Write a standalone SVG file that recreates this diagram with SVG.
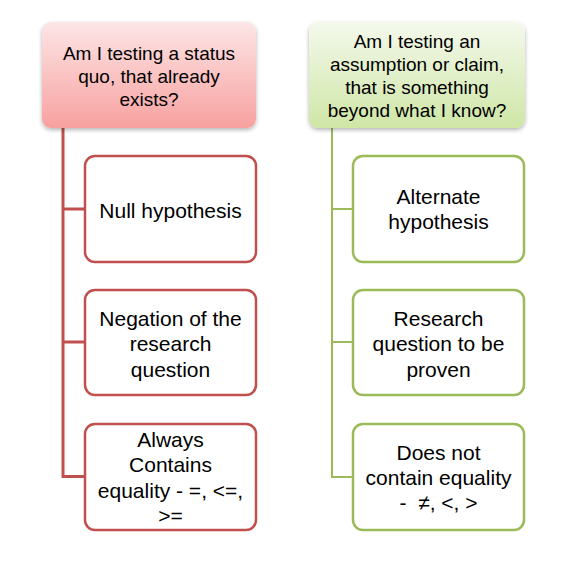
<svg xmlns="http://www.w3.org/2000/svg" width="577" height="573" viewBox="0 0 577 573">
<style>
text{font-family:"Liberation Sans",Arial,sans-serif;fill:#000;text-anchor:middle}
.t{font-size:19px}
.c{font-size:21px}
.rc{fill:#fff;stroke:#c0504d;stroke-width:2.5}
.gc{fill:#fff;stroke:#9bbb59;stroke-width:2.5}
.rl{fill:none;stroke:#c0504d;stroke-width:3}
.gl{fill:none;stroke:#9bbb59;stroke-width:2}
</style>
<defs>
<linearGradient id="rg" x1="0" y1="0" x2="0" y2="1">
<stop offset="0" stop-color="#fde6e6"/>
<stop offset="1" stop-color="#f7a1a0"/>
</linearGradient>
<linearGradient id="gg" x1="0" y1="0" x2="0" y2="1">
<stop offset="0" stop-color="#f4f9ec"/>
<stop offset="1" stop-color="#cfe6a6"/>
</linearGradient>
<filter id="sh" x="-10%" y="-10%" width="120%" height="130%">
<feGaussianBlur in="SourceAlpha" stdDeviation="2"/>
<feOffset dx="0" dy="2"/>
<feComponentTransfer><feFuncA type="linear" slope="0.3"/></feComponentTransfer>
<feMerge><feMergeNode/><feMergeNode in="SourceGraphic"/></feMerge>
</filter>
</defs>
<g id="connectors">
<path class="rl" d="M63,128 V476.5 H85 M63,209 H85 M63,342 H85"/>
<path class="gl" d="M332,128 V477 H353 M332,209 H353 M332,342 H353"/>
</g>
<g id="q-left">
<rect x="42" y="22" width="214" height="106" rx="9" fill="url(#rg)" filter="url(#sh)"/>
<text class="t" x="149" y="60">Am I testing a status</text>
<text class="t" x="149" y="83">quo, that already</text>
<text class="t" x="149" y="106">exists?</text>
</g>
<g id="q-right">
<rect x="309" y="22" width="216" height="106" rx="9" fill="url(#gg)" filter="url(#sh)"/>
<text class="t" x="417" y="48">Am I testing an</text>
<text class="t" x="417" y="71">assumption or claim,</text>
<text class="t" x="417" y="94">that is something</text>
<text class="t" x="417" y="117">beyond what I know?</text>
</g>
<g id="null">
<rect class="rc" x="85" y="156" width="171" height="106" rx="10"/>
<text class="c" x="170.5" y="218">Null hypothesis</text>
</g>
<g id="negation">
<rect class="rc" x="85" y="290" width="171" height="105" rx="10"/>
<text class="c" x="170.5" y="326">Negation of the</text>
<text class="c" x="170.5" y="351">research</text>
<text class="c" x="170.5" y="377">question</text>
</g>
<g id="equality">
<rect class="rc" x="85" y="424" width="171" height="106" rx="10"/>
<text class="c" x="170.5" y="447">Always</text>
<text class="c" x="170.5" y="472">Contains</text>
<text class="c" x="170.5" y="498">equality - =, &lt;=,</text>
<text class="c" x="170.5" y="523">&gt;=</text>
</g>
<g id="alternate">
<rect class="gc" x="353" y="156" width="171" height="106" rx="10"/>
<text class="c" x="438.5" y="204">Alternate</text>
<text class="c" x="438.5" y="229">hypothesis</text>
</g>
<g id="research">
<rect class="gc" x="353" y="290" width="171" height="105" rx="10"/>
<text class="c" x="438.5" y="326">Research</text>
<text class="c" x="438.5" y="351">question to be</text>
<text class="c" x="438.5" y="377">proven</text>
</g>
<g id="noequality">
<rect class="gc" x="353" y="424" width="171" height="106" rx="10"/>
<text class="c" x="438.5" y="460">Does not</text>
<text class="c" x="438.5" y="485">contain equality</text>
<text class="c" x="438.5" y="510">-&#160; ≠, &lt;, &gt;</text>
</g>
</svg>
